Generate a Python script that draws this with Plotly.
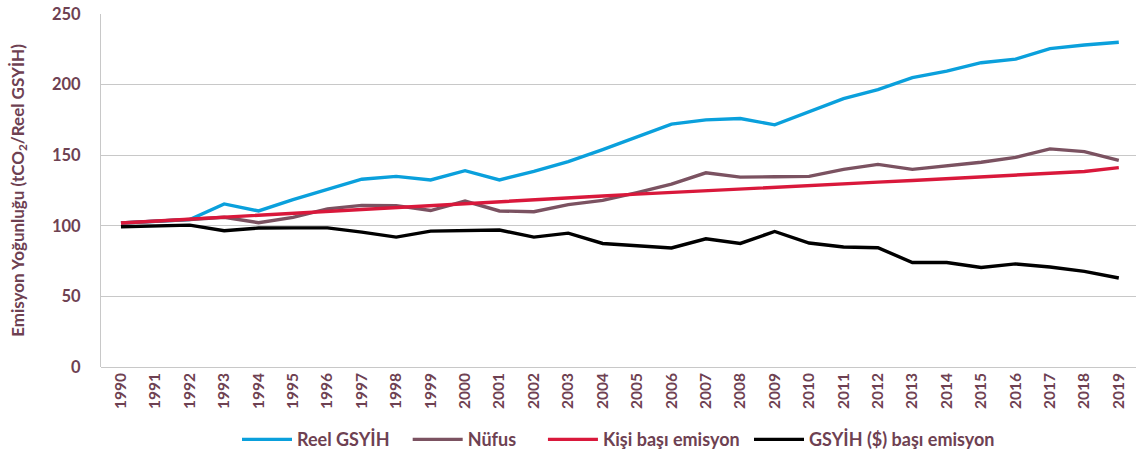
import plotly.graph_objects as go

years = [str(y) for y in range(1990, 2020)]

reel_gsyih = [102, 103, 104.5, 115.5, 110.5, 118.5, 126, 133, 135, 132.5,
              139, 132.5, 138.5, 145.5, 154, 163, 172, 175, 176, 171.5,
              180.5, 190, 196.5, 205, 209.5, 215.5, 218, 225.5, 228, 230]

nufus = [102, 103, 104.5, 106, 102.2, 106, 112, 114.5, 114.3, 110.8,
         117.5, 110.5, 110, 115, 118, 123.5, 129.5, 137.5, 134.5, 134.7,
         135, 140, 143.5, 140, 142.5, 145, 148.5, 154.5, 152.5, 146.3]

kisi_basi = [102, 103.4, 104.8, 106.2, 107.6, 109, 110.4, 111.8, 113.2, 114.6,
             115.9, 117.2, 118.5, 119.8, 121.1, 122.4, 123.7, 124.9, 126.1, 127.3,
             128.5, 129.7, 130.9, 132.1, 133.3, 134.5, 135.7, 136.9, 138.5, 141.2]

gsyih_basi = [99.3, 100, 100.5, 96.5, 98.4, 98.5, 98.5, 95.5, 92, 96.2,
              96.7, 97, 92, 94.8, 87.5, 86, 84.3, 90.8, 87.5, 96,
              87.8, 85, 84.5, 74, 74, 70.5, 73, 70.8, 67.7, 63]

series = [
    ("Reel GSYİH", reel_gsyih, "#0aa0dc", 3),
    ("Nüfus", nufus, "#7b5261", 5),
    ("Kişi başı emisyon", kisi_basi, "#d9183b", 1),
    ("GSYİH ($) başı emisyon", gsyih_basi, "#000000", 0),
]

text_color = "#6e4152"
font_family = "Lato, 'Open Sans', sans-serif"

fig = go.Figure()
for name, vals, color, npad in series:
    fig.add_trace(go.Scatter(
        x=years, y=vals, name=name + "\u00a0" * npad, mode="lines",
        line=dict(color=color, width=3.4),
    ))

fig.update_layout(
    width=1141, height=459,
    margin=dict(l=101, r=5, t=14, b=92),
    paper_bgcolor="white", plot_bgcolor="white",
    font=dict(family=font_family, color=text_color, size=15),
    showlegend=True,
    legend=dict(
        orientation="h", x=0.5, xanchor="center",
        yref="container", y=0.042, yanchor="middle",
        font=dict(size=18, color=text_color, family=font_family, weight="bold"),
        itemwidth=50, traceorder="normal",
    ),
    xaxis=dict(
        type="category", tickangle=-90, showgrid=False, zeroline=False,
        showline=False, ticks="", automargin=False, ticklabelstandoff=2,
        tickfont=dict(size=15.5, color=text_color, family=font_family, weight="bold"),
        range=[-0.58, 29.5],
    ),
    yaxis=dict(
        range=[0, 250], tickvals=[0, 50, 100, 150, 200, 250],
        showgrid=True, gridcolor="#c8c8c8", gridwidth=1,
        zeroline=True, zerolinecolor="#c8c8c8", zerolinewidth=1,
        showline=True, linecolor="#c8c8c8", linewidth=1,
        ticks="", ticklabelstandoff=16, automargin=False,
        ticklabeloverflow="allow",
        tickfont=dict(size=16.5, color=text_color, family=font_family, weight="bold"),
        title=dict(
            text="Emisyon Yoğunluğu (tCO<sub>2</sub>/Reel GSYİH)",
            font=dict(size=17, color=text_color, family=font_family, weight="bold"),
            standoff=23,
        ),
    ),
)

fig.write_html(
    "out.html",
    config={"displayModeBar": False},
    post_script="document.body.style.margin='0';document.body.style.overflow='hidden';",
)
